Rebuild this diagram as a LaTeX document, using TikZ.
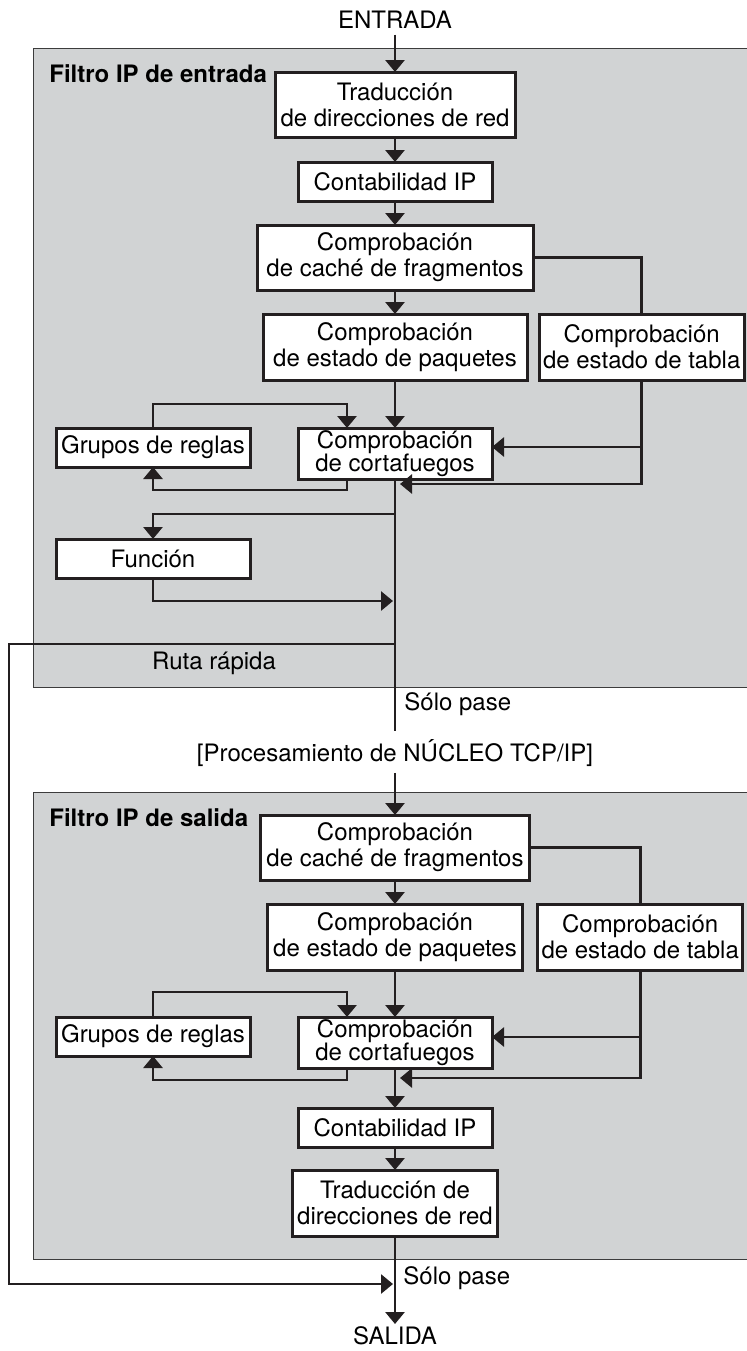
\documentclass[tikz,border=0pt]{standalone}
\usepackage{fontspec}
\setmainfont{TeX Gyre Heros}
\usetikzlibrary{arrows.meta, positioning, calc}

\definecolor{filtergray}{HTML}{D1D3D4}
\definecolor{framegray}{HTML}{3C3C3C}
\definecolor{ink}{HTML}{231F20}

\begin{document}
\begin{tikzpicture}[
    node distance=12pt and 6pt,
    box/.style={rectangle, draw=ink, fill=white, line width=1.5pt, inner xsep=2pt, inner ysep=0pt, outer sep=0pt, align=center, font=\fontsize{12}{13}\selectfont},
    wide/.style={box, minimum height=32.5pt},
    slim/.style={box, minimum width=97pt, minimum height=19.5pt},
    fwbox/.style={box, minimum width=97pt, minimum height=25.5pt, font=\fontsize{12}{11.5}\selectfont},
    filter/.style={rectangle, draw=framegray, fill=filtergray, line width=0.7pt, anchor=north west, inner sep=0pt},
    title/.style={anchor=west, inner sep=0pt, font=\fontsize{12}{13}\selectfont\bfseries},
    note/.style={inner sep=3pt, font=\fontsize{12}{13}\selectfont},
    arrow/.style={-{Triangle[width=9.5pt, length=6pt]}, line width=1.45pt, draw=ink},
    wire/.style={line width=1.45pt, draw=ink}
]
\useasboundingbox (0,0) rectangle (373pt,-675.5pt);

\node[filter, minimum width=358.5pt, minimum height=319.5pt] (filterin) at (16.5pt,-24pt) {};
\node[filter, minimum width=358.5pt, minimum height=233.5pt] (filterout) at (16.5pt,-396pt) {};
\node[title] (titlein) at ([xshift=8pt, yshift=-13pt]filterin.north west) {Filtro IP de entrada};
\node[title] (titleout) at ([xshift=8pt, yshift=-13pt]filterout.north west) {Filtro IP de salida};

\node[note] (entrada) at (197.5pt,-9.75pt) {ENTRADA};
\node[wide, minimum width=120pt] (nat1) at (197.5pt,-52.25pt) {Traducción\\de direcciones de red};
\node[slim, below=12.5pt of nat1] (acct1) {Contabilidad IP};
\node[wide, minimum width=138pt, below=of acct1] (cache1) {Comprobación\\de caché de fragmentos};
\node[wide, minimum width=132pt, minimum height=33pt, below=of cache1] (pkt1) {Comprobación\\de estado de paquetes};
\node[wide, minimum width=101.5pt, minimum height=33pt, right=of pkt1] (table1) {Comprobación\\de estado de tabla};
\node[fwbox, below=24pt of pkt1] (fw1) {Comprobación\\de cortafuegos};
\node[slim, left=24pt of fw1.north west, anchor=north east] (rules1) {Grupos de reglas};
\node[slim, below=36pt of rules1] (func1) {Función};

\node[wide, minimum width=134.5pt] (cache2) at (197.5pt,-423.75pt) {Comprobación\\de caché de fragmentos};
\node[wide, minimum width=127.5pt, minimum height=33pt, below=of cache2] (pkt2) {Comprobación\\de estado de paquetes};
\node[wide, minimum width=102pt, minimum height=33pt, right=7.5pt of pkt2] (table2) {Comprobación\\de estado de tabla};
\node[fwbox, below=23.5pt of pkt2] (fw2) {Comprobación\\de cortafuegos};
\node[slim, left=24pt of fw2.north west, anchor=north east] (rules2) {Grupos de reglas};
\node[slim, below=20pt of fw2] (acct2) {Contabilidad IP};
\node[wide, minimum width=102.5pt, minimum height=33pt, below=11.5pt of acct2] (nat2) {Traducción de\\direcciones de red};
\node[note, inner sep=1pt, below=44pt of nat2] (salida) {SALIDA};

\coordinate (join1) at ([xshift=2.5pt, yshift=-2.5pt]fw1.south);
\coordinate (split1) at ([yshift=-17.5pt]fw1.south);
\coordinate (merge1) at ([xshift=-1pt, yshift=-61pt]fw1.south);
\coordinate (fast1) at ([yshift=-82.5pt]fw1.south);
\coordinate (end1) at ([yshift=-126pt]fw1.south);
\coordinate (join2) at ([xshift=2.5pt, yshift=-5pt]fw2.south);
\coordinate (merge2) at ([xshift=-1pt, yshift=-24pt]nat2.south);

\node[note, anchor=west] (pass1) at ([xshift=1.5pt, yshift=13.5pt]end1) {Sólo pase};
\node[note] (fastlabel) at ([xshift=-90.5pt, yshift=-9.5pt]fast1) {Ruta rápida};
\node[note] (kernel) at ([yshift=-11pt]end1) {[Procesamiento de NÚCLEO TCP/IP]};
\node[note, anchor=west] (pass2) at ([xshift=1pt, yshift=-21pt]nat2.south) {Sólo pase};

\draw[arrow] (entrada) -- (nat1);
\draw[arrow] (nat1) -- (acct1);
\draw[arrow] (acct1) -- (cache1);
\draw[arrow] (cache1) -- (pkt1);
\draw[arrow] (pkt1) -- (fw1);
\draw[wire] (cache1.east) -| (table1.north);
\draw[arrow] (table1.south) |- ([yshift=3.25pt]fw1.east);
\draw[arrow] (table1.south) |- (join1);
\draw[arrow] (rules1.north) -- ++(0,12pt) -| ([xshift=-24pt]fw1.north);
\draw[arrow] ([xshift=-24pt]fw1.south) -- ++(0,-5.5pt) -| (rules1.south);
\draw[wire] (fw1.south) -- (end1);
\draw[arrow] (split1) -| (func1.north);
\draw[arrow] (func1.south) |- (merge1);
\draw[arrow] (fast1) -- ++(-193pt,0) |- (merge2);

\draw[arrow] (kernel) -- (cache2);
\draw[arrow] (cache2) -- (pkt2);
\draw[arrow] (pkt2) -- (fw2);
\draw[arrow] (fw2) -- (acct2);
\draw[arrow] (acct2) -- (nat2);
\draw[arrow] (nat2) -- (salida);
\draw[wire] (cache2.east) -| (table2.north);
\draw[arrow] (table2.south) |- ([yshift=2.75pt]fw2.east);
\draw[arrow] (table2.south) |- (join2);
\draw[arrow] (rules2.north) -- ++(0,12.5pt) -| ([xshift=-24pt]fw2.north);
\draw[arrow] ([xshift=-24pt]fw2.south) -- ++(0,-6pt) -| (rules2.south);
\end{tikzpicture}
\end{document}
